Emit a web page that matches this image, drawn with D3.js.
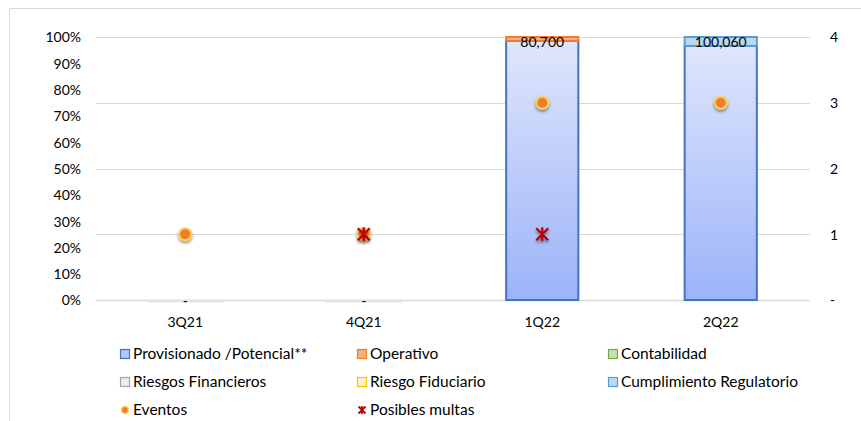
<!DOCTYPE html>
<html>
<head>
<meta charset="utf-8">
<script src="https://cdn.jsdelivr.net/npm/d3@7"></script>
<style>
  body { margin: 0; background: #fff; }
  text { font-family: Lato, "Open Sans", sans-serif; fill: #000; }
</style>
</head>
<body>
<div id="chart-area"></div>
<script>
// data
const quarters = ["3Q21", "4Q21", "1Q22", "2Q22"]
const provisionado = [0, 0, 98.5, 96.6]
const operativo = [0, 0, 1.5, 0]
const contabilidad = [0, 0, 0, 0]
const riesgosFin = [0, 0, 0, 0]
const riesgoFid = [0, 0, 0, 0]
const cumplimiento = [0, 0, 0, 3.4]
const totals = ["-", "-", "80,700", "100,060"]
const eventos = [1, 1, 3, 3]
const multas = [null, 1, 1, null]
const leftTicks = [0, 10, 20, 30, 40, 50, 60, 70, 80, 90, 100]
const rightTicks = [0, 1, 2, 3, 4]

const W = 861, H = 421
const PLOT = {LEFT: 96, RIGHT: 810, TOP: 37, BOTTOM: 300}

const svg = d3.select("#chart-area").append("svg")
  .attr("width", W)
  .attr("height", H)

const defs = svg.append("defs")
const grad = defs.append("linearGradient")
  .attr("id", "provGrad").attr("x1", 0).attr("y1", 0).attr("x2", 0).attr("y2", 1)
grad.append("stop").attr("offset", "0%").attr("stop-color", "#dfe6fc")
grad.append("stop").attr("offset", "100%").attr("stop-color", "#9bb3f8")

const shadow = defs.append("filter").attr("id", "shadow")
  .attr("x", "-50%").attr("y", "-50%").attr("width", "200%").attr("height", "200%")
shadow.append("feDropShadow").attr("dx", 0).attr("dy", 2).attr("stdDeviation", 1.8)
  .attr("flood-color", "#000").attr("flood-opacity", 0.45)

// outer frame
svg.append("path")
  .attr("d", `M9.5,${H} V8.5 H${W}`)
  .attr("fill", "none").attr("stroke", "#d9d9d9")

// scales
const x = d3.scaleBand().domain(quarters).range([PLOT.LEFT, PLOT.RIGHT]).paddingInner(0.59).paddingOuter(0.295)
const y = d3.scaleLinear().domain([0, 100]).range([PLOT.BOTTOM, PLOT.TOP])
const y2 = d3.scaleLinear().domain([0, 4]).range([PLOT.BOTTOM, PLOT.TOP])

// gridlines
svg.append("g").selectAll("line").data(rightTicks).join("line")
  .attr("x1", PLOT.LEFT).attr("x2", PLOT.RIGHT)
  .attr("y1", d => Math.round(y2(d)) + 0.5).attr("y2", d => Math.round(y2(d)) + 0.5)
  .attr("stroke", "#d9d9d9").attr("stroke-width", d => d === 0 ? 1.5 : 1)

// left axis
const yAxis = d3.axisLeft(y).tickValues(leftTicks).tickFormat(d => d + "%").tickSize(0).tickPadding(0)
const gy = svg.append("g").attr("transform", "translate(81,0)").call(yAxis)
gy.select(".domain").remove()
gy.selectAll("text").attr("font-size", "14px").attr("font-family", "Lato").attr("dy", "0.35em")

// right axis
const y2Axis = d3.axisRight(y2).tickValues(rightTicks).tickFormat(d => d === 0 ? "-" : d).tickSize(0).tickPadding(0)
const gy2 = svg.append("g").attr("transform", "translate(830,0)").call(y2Axis)
gy2.select(".domain").remove()
gy2.selectAll("text").attr("font-size", "14px").attr("font-family", "Lato").attr("dy", "0.35em")

// x axis labels
svg.append("g").selectAll("text").data(quarters).join("text")
  .attr("x", d => x(d) + x.bandwidth() / 2)
  .attr("y", 327)
  .attr("text-anchor", "middle")
  .attr("font-size", "14px")
  .text(d => d)

// stacked bars
const seriesDefs = [
  {key: "prov", values: provisionado, fill: "url(#provGrad)", stroke: "#4472c4"},
  {key: "oper", values: operativo, fill: "#f4b183", stroke: "#ed7d31"},
  {key: "cont", values: contabilidad, fill: "#c5e0b4", stroke: "#70ad47"},
  {key: "rfin", values: riesgosFin, fill: "#dbdbdb", stroke: "#a5a5a5"},
  {key: "rfid", values: riesgoFid, fill: "#ffe699", stroke: "#ffc000"},
  {key: "cump", values: cumplimiento, fill: "#bdd7ee", stroke: "#5b9bd5"}
]
const table = quarters.map((q, i) => {
  const row = {q}
  seriesDefs.forEach(s => { row[s.key] = s.values[i] })
  return row
})
const stack = d3.stack().keys(seriesDefs.map(s => s.key))(table)

const bars = svg.append("g")
stack.forEach((layer, li) => {
  const s = seriesDefs[li]
  bars.append("g").selectAll("rect").data(layer.filter(d => d[1] - d[0] > 0)).join("rect")
    .attr("x", d => x(d.data.q) + 0.5)
    .attr("width", x.bandwidth() - 1)
    .attr("y", d => y(d[1]))
    .attr("height", d => y(d[0]) - y(d[1]))
    .attr("fill", s.fill)
    .attr("stroke", s.stroke)
    .attr("stroke-width", 2)
})

// zero bars (empty quarters)
svg.append("g").selectAll("line").data(quarters.filter((q, i) => totals[i] === "-")).join("line")
  .attr("x1", d => x(d) - 2).attr("x2", d => x(d) + x.bandwidth() + 2)
  .attr("y1", y(0) + 1).attr("y2", y(0) + 1)
  .attr("stroke", "#e4e4e4").attr("stroke-width", 3)

// total labels
svg.append("g").selectAll("text").data(quarters).join("text")
  .attr("x", d => x(d) + x.bandwidth() / 2)
  .attr("y", (d, i) => totals[i] === "-" ? 306 : 47)
  .attr("text-anchor", "middle")
  .attr("font-size", "14px")
  .text((d, i) => totals[i])

// eventos
svg.append("g").selectAll("circle").data(quarters).join("circle")
  .attr("cx", d => x(d) + x.bandwidth() / 2)
  .attr("cy", (d, i) => y2(eventos[i]))
  .attr("r", 6)
  .attr("fill", "#ed7d31")
  .attr("stroke", "#ffd04a")
  .attr("stroke-width", 2)
  .attr("filter", "url(#shadow)")

// posibles multas
const multaData = quarters.map((q, i) => ({q, v: multas[i]})).filter(d => d.v !== null)
const mg = svg.append("g").selectAll("g").data(multaData).join("g")
  .attr("transform", d => `translate(${x(d.q) + x.bandwidth() / 2},${y2(d.v)})`)
  .attr("filter", "url(#shadow)")
mg.append("path")
  .attr("d", "M-6,-6L6,6M-6,6L6,-6M0,-7V7")
  .attr("stroke", "#c00000")
  .attr("stroke-width", 2.2)
  .attr("fill", "none")

// legend
const legendItems = [
  {label: "Provisionado /Potencial**", fill: "#b4c7f7", stroke: "#4472c4", col: 0, row: 0},
  {label: "Operativo", fill: "#f4b183", stroke: "#ed7d31", col: 1, row: 0},
  {label: "Contabilidad", fill: "#c5e0b4", stroke: "#70ad47", col: 2, row: 0},
  {label: "Riesgos Financieros", fill: "#ededed", stroke: "#a5a5a5", col: 0, row: 1},
  {label: "Riesgo Fiduciario", fill: "#fff2cc", stroke: "#ffc000", col: 1, row: 1},
  {label: "Cumplimiento Regulatorio", fill: "#bdd7ee", stroke: "#5b9bd5", col: 2, row: 1},
  {label: "Eventos", type: "circle", col: 0, row: 2},
  {label: "Posibles multas", type: "x", col: 1, row: 2}
]
const colX = [120, 357, 608]
const rowY = [354, 382, 410]
const legend = svg.append("g")
legendItems.forEach(it => {
  const row = legend.append("g").attr("transform", `translate(${colX[it.col]},${rowY[it.row]})`)
  if (it.type === "circle") {
    row.append("circle").attr("cx", 5).attr("cy", 0).attr("r", 3.5)
      .attr("fill", "#ed7d31").attr("stroke", "#ffd04a").attr("stroke-width", 1.5)
  } else if (it.type === "x") {
    row.append("path").attr("d", "M1.5,-3.5L8.5,3.5M1.5,3.5L8.5,-3.5M5,-4V4")
      .attr("stroke", "#c00000").attr("stroke-width", 1.8).attr("fill", "none")
  } else {
    row.append("rect").attr("x", 0.5).attr("y", -4.5).attr("width", 9).attr("height", 9)
      .attr("fill", it.fill).attr("stroke", it.stroke).attr("stroke-width", 1.2)
  }
  row.append("text").attr("x", 13).attr("y", 0).attr("dy", "0.35em")
    .attr("font-size", "15.5px").text(it.label)
})
</script>
</body>
</html>
